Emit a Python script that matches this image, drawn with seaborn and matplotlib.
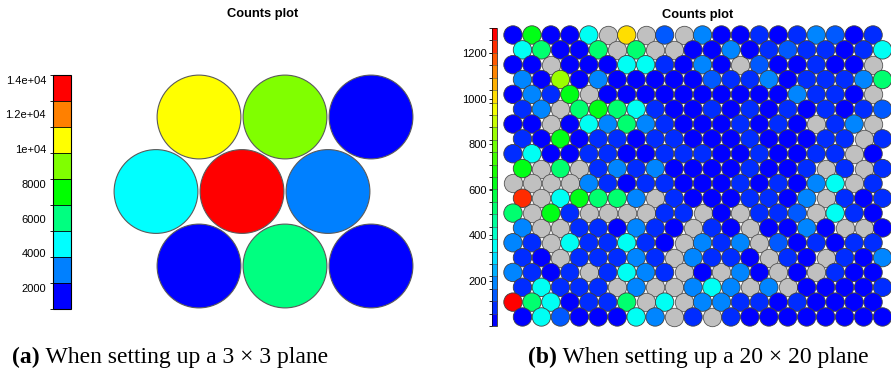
import numpy as np
import pandas as pd
import matplotlib
matplotlib.use("Agg")
import matplotlib.pyplot as plt
import matplotlib.colors as mcolors
import matplotlib.cm as cm
import seaborn as sns

# ---------------- data ----------------
# Panel (a): 3 x 3 plane, hit counts per neuron (rows listed top to bottom)
counts_a = [[10500, 9000, 1000],
            [4500, 14260, 3000],
            [793, 6000, 1200]]
range_a = (793, 14260)
levels_a = 9
cbar_a_ticks = [2000, 4000, 6000, 8000, 10000, 12000, 14000]
cbar_a_labels = ["2000", "4000", "6000", "8000", "1e+04", "1.2e+04", "1.4e+04"]

# Panel (b): 20 x 20 plane, approximate hit count class per neuron
# '.' = empty neuron (0 hits, grey)
class_counts = {'.': 0, 'B': 25, 'b': 80, 'c': 130, 'l': 190, 'C': 350,
                'T': 520, 'G': 630, 'Y': 840, 'y': 1000, 'R': 1220, 'X': 1300}
rows_b = [
    "BGBBC.y.c.lBBbBblcBb",
    "CTBBT.T..BBlBbcbbBbC",
    "BB.BBBCCbBlB.cBBbBB.",
    "lBYBlBBBBBcbblBbbblT",
    "BlbG.BBBBBBBBBBlbbB.",
    "bl.TGTCbBBbBbBbBbBbc",
    "BB.BClTlbBBBbBbB.bl.",
    "bBGBbbBbbBBBbBBBbb.b",
    "bCBBbbBBbbbBBbBBbb.B",
    "G.T.blblBBBBbBBb.b.b",
    "....lbBbbBBBbBbBlC.b",
    "R.CGTTl.bBBBbbBl.bBb",
    "T.Gb....bb.B.bbc.CbB",
    "l..bbBlbB.bB.BBlB..B",
    "lb.CbbCbB.lbl.cBbBbb",
    "bB.bbblb.lbbB.bB.bBl",
    "lbBb.bClb.B.lB.B.bBB",
    "bCbbb.l..lCl.l.BBBBb",
    "XTCBbbT.C.llbbBbBBBB",
    "BCcBBBCl.b.bBBBBBBBB",
]
range_b = (0, 1311)
levels_b = 24
cbar_b_ticks = [200, 400, 600, 800, 1000, 1200]
cbar_b_labels = ["200", "400", "600", "800", "1000", "1200"]

title_text = "Counts plot"
caption_a = ("(a)", " When setting up a 3 \u00d7 3 plane")
caption_b = ("(b)", " When setting up a 20 \u00d7 20 plane")

# ---------------- helpers ----------------
W, H = 891, 373


def hue_cmap(n):
    cols = [mcolors.hsv_to_rgb((h / 360.0, 1.0, 1.0)) for h in np.linspace(240, 0, n)]
    return mcolors.ListedColormap(cols)


def grid_frame(counts, offset_parity):
    recs = []
    for r, row in enumerate(counts):
        off = 0.5 if (r % 2) == offset_parity else 0.0
        for j, v in enumerate(row):
            recs.append({"x": j + off, "y": r, "count": v})
    return pd.DataFrame(recs)


def px_axes(l, t, r, b):
    return fig.add_axes([l / W, 1 - b / H, (r - l) / W, (b - t) / H])


sans = ["Liberation Sans", "DejaVu Sans"]
serif = ["Liberation Serif", "DejaVu Serif"]

fig = plt.figure(figsize=(W / 100, H / 100), dpi=100)

# ---------------- panel (a) ----------------
cmap_a = hue_cmap(levels_a)
norm_a = mcolors.BoundaryNorm(np.linspace(range_a[0], range_a[1], levels_a + 1), levels_a)
df_a = grid_frame(counts_a, 0)

axA = px_axes(100, 60, 430, 320)
sns.scatterplot(data=df_a, x="x", y="y", hue="count", palette=cmap_a, hue_norm=norm_a,
                s=3640, edgecolor="#5a5a5a", linewidth=0.8, legend=False, ax=axA)
axA.set_xlim((100 - 156) / 86, (430 - 156) / 86)
axA.set_ylim((320 - 117) / 74.5, (60 - 117) / 74.5)
axA.axis("off")

caxA = px_axes(53, 75, 71, 309)
cbA = fig.colorbar(cm.ScalarMappable(norm=norm_a, cmap=cmap_a), cax=caxA, drawedges=True)
cbA.set_ticks(cbar_a_ticks, labels=cbar_a_labels)
cbA.ax.yaxis.set_ticks_position("left")
cbA.ax.tick_params(length=0, pad=5, labelsize=8)
cbA.outline.set_linewidth(0.8)
cbA.dividers.set_linewidth(0.6)
for lab in cbA.ax.get_yticklabels():
    lab.set_family(sans)

fig.text(263 / W, 1 - 14 / H, title_text, ha="center", va="center",
         fontweight="bold", fontsize=9.3, family=sans)

# ---------------- panel (b) ----------------
cmap_b = hue_cmap(levels_b)
norm_b = mcolors.BoundaryNorm(np.linspace(range_b[0], range_b[1], levels_b + 1), levels_b)
counts_b = [[class_counts[ch] for ch in row] for row in rows_b]
df_b = grid_frame(counts_b, 1)
hit = df_b[df_b["count"] > 0]
empty = df_b[df_b["count"] == 0]

axB = px_axes(500, 25, 891, 330)
sns.scatterplot(data=empty, x="x", y="y", color="#c0c0c0", s=176,
                edgecolor="#555555", linewidth=0.6, legend=False, ax=axB)
sns.scatterplot(data=hit, x="x", y="y", hue="count", palette=cmap_b, hue_norm=norm_b,
                s=176, edgecolor="#404040", linewidth=0.6, legend=False, ax=axB)
axB.set_xlim((500 - 513) / 18.95, (891 - 513) / 18.95)
axB.set_ylim((330 - 35) / 14.84, (25 - 35) / 14.84)
axB.axis("off")

caxB = px_axes(492, 28, 497, 326)
cbB = fig.colorbar(cm.ScalarMappable(norm=norm_b, cmap=cmap_b), cax=caxB, drawedges=True)
cbB.set_ticks(cbar_b_ticks, labels=cbar_b_labels)
cbB.ax.yaxis.set_ticks_position("left")
cbB.ax.tick_params(length=2.5, width=0.6, pad=1, labelsize=8)
cbB.outline.set_linewidth(0.5)
cbB.dividers.set_linewidth(0.4)
cbB.dividers.set_color("#555555")
for lab in cbB.ax.get_yticklabels():
    lab.set_family(sans)

fig.text(698 / W, 1 - 15 / H, title_text, ha="center", va="center",
         fontweight="bold", fontsize=9.3, family=sans)

# ---------------- captions ----------------
fig.canvas.draw()
renderer = fig.canvas.get_renderer()
for (bold, rest), x0 in ((caption_a, 12), (caption_b, 528)):
    t1 = fig.text(x0 / W, 1 - 363 / H, bold, fontweight="bold", fontsize=17,
                  family=serif, va="baseline", ha="left")
    bb = t1.get_window_extent(renderer=renderer)
    fig.text(bb.x1 / W, 1 - 363 / H, rest, fontsize=17, family=serif,
             va="baseline", ha="left")

fig.savefig("out.png", dpi=100)
